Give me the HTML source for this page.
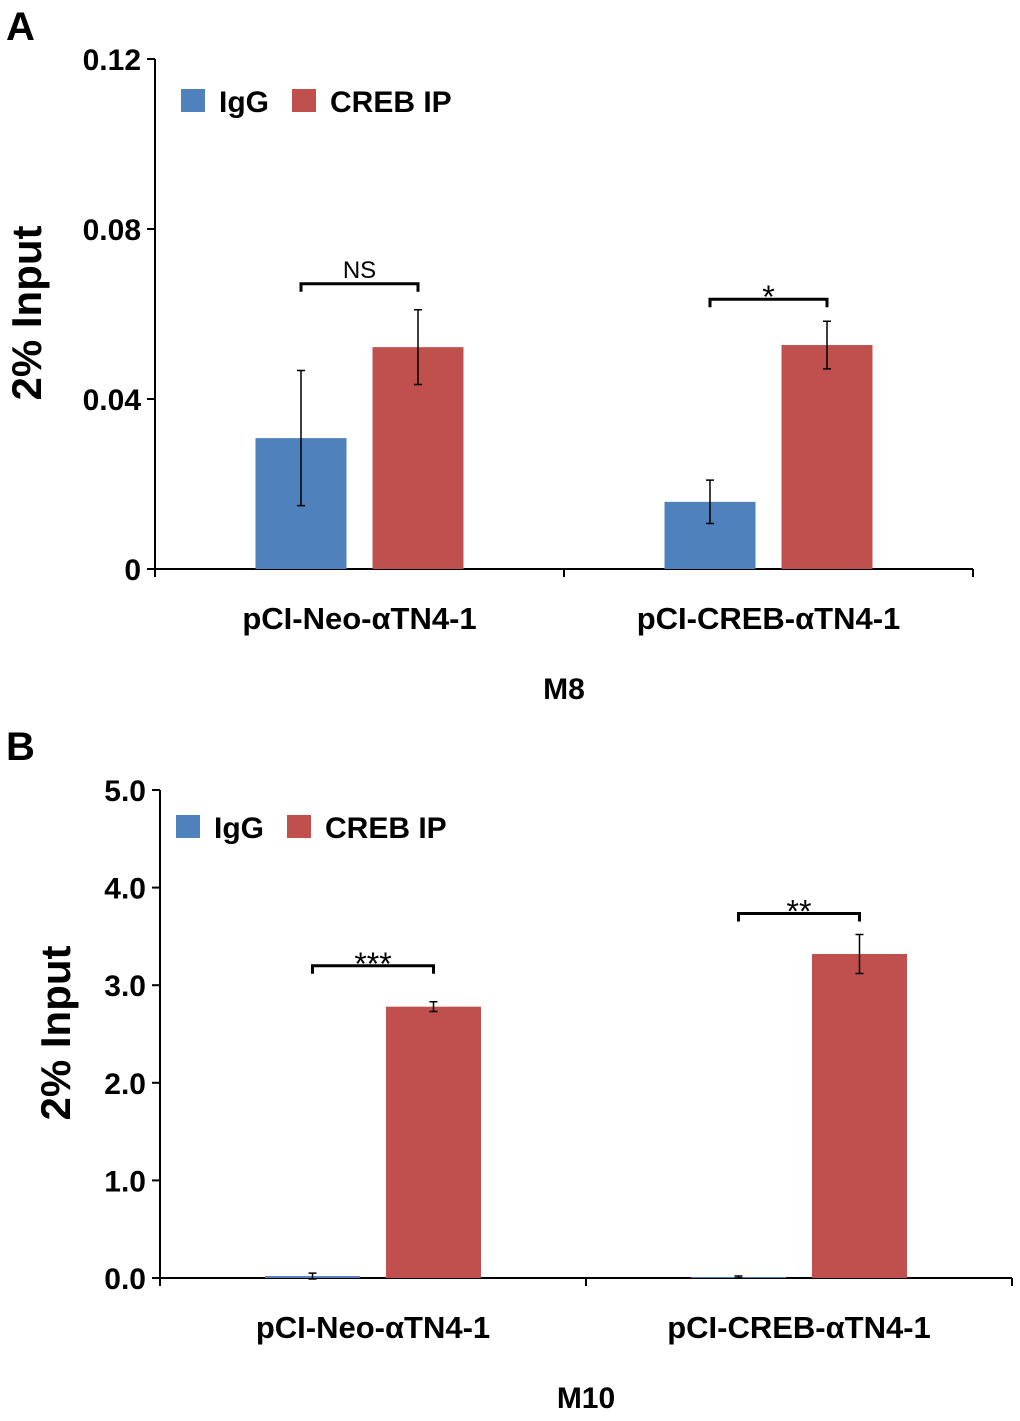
<!DOCTYPE html>
<html><head><meta charset="utf-8"><style>
body{margin:0;background:#fff}
text{font-family:"Liberation Sans",sans-serif}
</style></head><body>
<svg id="svg" width="1020" height="1416" xmlns="http://www.w3.org/2000/svg"></svg>
<script>
const categories=["pCI-Neo-αTN4-1","pCI-CREB-αTN4-1"];
const seriesNames=["IgG","CREB IP"];
const aIgG=[0.0308,0.0158];
const aIgGErr=[0.0159,0.0051];
const aCreb=[0.0522,0.0527];
const aCrebErr=[0.0088,0.0056];
const aTicks=[0,0.04,0.08,0.12];
const aTickLabels=["0","0.04","0.08","0.12"];
const aSig=["NS","*"];
const bIgG=[0.02,0.01];
const bIgGErr=[0.03,0.01];
const bCreb=[2.78,3.32];
const bCrebErr=[0.05,0.2];
const bTicks=[0,1,2,3,4,5];
const bTickLabels=["0.0","1.0","2.0","3.0","4.0","5.0"];
const bSig=["***","**"];
const colors=["#4f81bd","#c0504d"];
const svg=document.getElementById('svg');
const NS="http://www.w3.org/2000/svg";
function el(tag,attrs,txt){const e=document.createElementNS(NS,tag);for(const k in attrs)e.setAttribute(k,attrs[k]);if(txt!==undefined)e.textContent=txt;svg.appendChild(e);return e;}
function panel(cfg){
  const y=v=>cfg.y0-(v/cfg.max)*(cfg.y0-cfg.yTop);
  let e=el('line',{x1:cfg.x0,y1:cfg.yTop,x2:cfg.x0,y2:cfg.y0,stroke:'#000','stroke-width':2});
  
  e=el('line',{x1:cfg.x0,y1:cfg.y0,x2:cfg.x1,y2:cfg.y0,stroke:'#000','stroke-width':2});
  
  cfg.ticks.forEach((t,i)=>{
    el('line',{x1:cfg.x0-8,y1:y(t),x2:cfg.x0,y2:y(t),stroke:'#000','stroke-width':2});
    const tx=el('text',{x:cfg.x0-14,y:y(t)+11,'text-anchor':'end','font-size':30,'font-weight':'bold'},cfg.labels[i]);
    
  });
  const w=(cfg.x1-cfg.x0)/categories.length;
  [cfg.x0,cfg.x0+w,cfg.x1].forEach(x=>el('line',{x1:x,y1:cfg.y0,x2:x,y2:cfg.y0+8,stroke:'#000','stroke-width':2}));
  categories.forEach((c,i)=>{
    const cx=cfg.x0+w*(i+0.5);
    const vals=[cfg.igg[i],cfg.creb[i]],errs=[cfg.iggE[i],cfg.crebE[i]];
    const xs=[cx-cfg.off-cfg.bw,cx+cfg.off];
    vals.forEach((v,j)=>{
      const r=el('rect',{x:xs[j],y:y(v),width:cfg.bw,height:cfg.y0-y(v),fill:colors[j]});
      
      const mx=xs[j]+cfg.bw/2;
      const eb=el('path',{d:`M${mx} ${y(v+errs[j])}V${y(v-errs[j])}M${mx-4} ${y(v+errs[j])}H${mx+4}M${mx-4} ${y(v-errs[j])}H${mx+4}`,stroke:'#000','stroke-width':1.5,fill:'none'});
      
    });
    const bx1=xs[0]+cfg.bw/2,bx2=xs[1]+cfg.bw/2;
    const top=Math.min(y(vals[0]+errs[0]),y(vals[1]+errs[1]))-cfg.bGap[i];
    const br=el('path',{d:`M${bx1} ${top+8}V${top}H${bx2}V${top+8}`,stroke:'#000','stroke-width':3,fill:'none'});
    
    const isNS=cfg.sig[i]==='NS';
    const st=el('text',{x:(bx1+bx2)/2,y:top-(isNS?6:-9),'text-anchor':'middle','font-size':isNS?24:32},cfg.sig[i]);
    
    const cl=el('text',{x:cx,y:cfg.y0+60,'text-anchor':'middle','font-size':31,'font-weight':'bold'},c);
    
  });
  const xt=el('text',{x:cfg.x0+w,y:cfg.y0+130,'text-anchor':'middle','font-size':30,'font-weight':'bold'},cfg.xt);
  
  const yt=el('text',{x:0,y:0,'text-anchor':'middle','font-size':42,'font-weight':'bold',transform:`translate(${cfg.ytx},${cfg.yty}) rotate(-90)`},'2% Input');
  
  seriesNames.forEach((s,j)=>{
    const lx=cfg.lx+j*111;
    const r=el('rect',{x:lx,y:cfg.ly,width:24,height:23,fill:colors[j]});
    
    const t=el('text',{x:lx+38,y:cfg.ly+23,'font-size':30,'font-weight':'bold'},s);
    
  });
  const pl=el('text',{x:6,y:cfg.plY,'font-size':40,'font-weight':'bold'},cfg.id);
  
}
panel({id:'A',x0:155,x1:973,y0:569,yTop:59,max:0.12,ticks:aTicks,labels:aTickLabels,igg:aIgG,iggE:aIgGErr,creb:aCreb,crebE:aCrebErr,sig:aSig,bw:91,off:13,bGap:[26,22],xt:'M8',ytx:41,yty:313,lx:181,ly:89,plY:40});
panel({id:'B',x0:160,x1:1012,y0:1278,yTop:790,max:5,ticks:bTicks,labels:bTickLabels,igg:bIgG,iggE:bIgGErr,creb:bCreb,crebE:bCrebErr,sig:bSig,bw:95,off:13,bGap:[36,21],xt:'M10',ytx:70,yty:1033,lx:176,ly:815,plY:760});
</script>
</body></html>
